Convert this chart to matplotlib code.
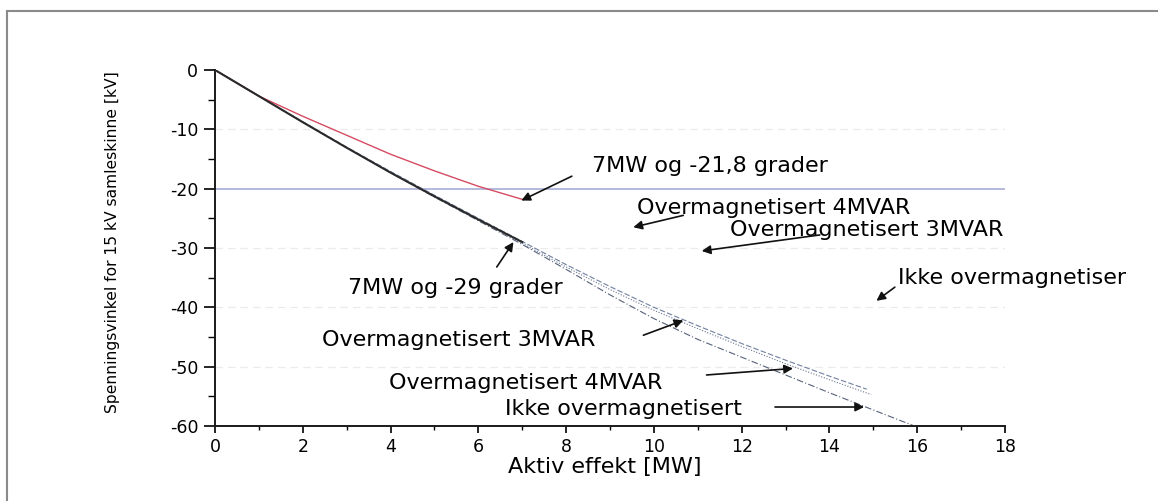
import matplotlib
matplotlib.use("Agg")
import matplotlib.pyplot as plt
from matplotlib.lines import Line2D
from matplotlib.ticker import MultipleLocator

plt.rcParams['font.family'] = ['DejaVu Sans']
plt.rcParams['axes.unicode_minus'] = False

# ---- data ----
x_red = [0, 1, 2, 3, 4, 5, 6, 7]
y_red = [0, -4.4, -7.8, -11.0, -14.2, -17.0, -19.6, -21.8]

x_black = [0, 1, 2, 3, 4, 5, 6, 7]
y_black = [0, -4.4, -8.8, -13.1, -17.3, -21.3, -25.2, -29.0]

x_ikke = [0, 1, 2, 3, 4, 5, 6, 7, 8, 9, 10, 11, 12, 13, 14, 15, 15.9]
y_ikke = [0, -4.4, -8.8, -13.1, -17.3, -21.4, -25.4, -29.4, -33.6, -37.9,
          -41.9, -45.4, -48.4, -51.4, -54.4, -57.3, -59.9]

x_3mvar = [0, 1, 2, 3, 4, 5, 6, 7, 8, 9, 10, 11, 12, 13, 14, 14.95]
y_3mvar = [0, -4.4, -8.8, -13.1, -17.2, -21.2, -25.2, -29.2, -33.2, -37.0,
           -40.5, -43.6, -46.6, -49.5, -52.2, -54.7]

x_4mvar = [0, 1, 2, 3, 4, 5, 6, 7, 8, 9, 10, 11, 12, 13, 14, 14.85]
y_4mvar = [0, -4.4, -8.7, -13.0, -17.1, -21.1, -25.0, -28.9, -32.8, -36.5,
           -40.0, -43.1, -46.1, -48.9, -51.6, -53.8]

limit_value = -20
faint_grid = [-10, -30, -40, -50]

x_ticks = [0, 2, 4, 6, 8, 10, 12, 14, 16, 18]
y_ticks = [0, -10, -20, -30, -40, -50, -60]

# annotations: (text, text_xy, arrow_tail, arrow_head)
annotations = [
    ("7MW og -21,8 grader", (8.58, -16.2), (8.13, -17.9), (6.98, -22.0)),
    ("Overmagnetisert 4MVAR", (9.61, -23.3), (10.67, -24.5), (9.53, -26.5)),
    ("Overmagnetisert 3MVAR", (11.73, -27.0), (13.78, -27.8), (11.09, -30.5)),
    ("Ikke overmagnetiser", (15.56, -35.1), (15.49, -36.6), (15.07, -38.9)),
    ("7MW og -29 grader", (3.03, -36.8), (6.42, -33.2), (6.80, -29.0)),
    ("Overmagnetisert 3MVAR", (2.44, -45.5), (9.76, -44.7), (10.67, -42.2)),
    ("Overmagnetisert 4MVAR", (3.96, -52.8), (11.2, -51.4), (13.17, -50.3)),
    ("Ikke overmagnetisert", (6.61, -57.1), (12.76, -56.8), (14.79, -56.8)),
]

# ---- figure ----
W, H = 1158, 501
fig = plt.figure(figsize=(W / 100, H / 100), dpi=100)
fig.patch.set_facecolor('white')

ax_left, ax_right, ax_top, ax_bot = 215, 1005, 70, 426
ax = fig.add_axes([ax_left / W, 1 - ax_bot / H, (ax_right - ax_left) / W, (ax_bot - ax_top) / H])

for gy in faint_grid:
    ax.axhline(gy, color='#ebebeb', lw=0.9, ls=(0, (6, 4)), zorder=0)
ax.axhline(limit_value, color='#a0a6d2', lw=1.1, zorder=1)

ax.plot(x_ikke, y_ikke, color='#56627a', lw=0.8, ls=(0, (6, 2, 1, 2)), zorder=2)
ax.plot(x_3mvar, y_3mvar, color='#6a7590', lw=0.8, ls=(0, (1, 1.5)), zorder=2)
ax.plot(x_4mvar, y_4mvar, color='#7080a0', lw=0.8, ls=(0, (5, 2)), zorder=2)
ax.plot(x_red, y_red, color='#d64a62', lw=1.0, zorder=3)
ax.plot(x_black, y_black, color='#2a2a2a', lw=1.5, zorder=4)

ax.set_xlim(0, 18)
ax.set_ylim(-60, 0)
ax.set_xticks(x_ticks)
ax.set_yticks(y_ticks)
ax.xaxis.set_minor_locator(MultipleLocator(1))
ax.yaxis.set_minor_locator(MultipleLocator(5))

for s in ['top', 'right']:
    ax.spines[s].set_visible(False)
for s in ['left', 'bottom']:
    ax.spines[s].set_linewidth(1.4)
    ax.spines[s].set_color('#1a1a1a')

ax.tick_params(axis='y', which='major', length=8, width=1.2, direction='out', pad=4, labelsize=12.5)
ax.tick_params(axis='y', which='minor', length=5, width=1.0, direction='out')
ax.tick_params(axis='x', which='major', length=5, width=1.2, direction='out', pad=4, labelsize=12.5)
ax.tick_params(axis='x', which='minor', length=3, width=1.0, direction='out')

ax.set_xlabel("Aktiv effekt [MW]", fontsize=16, va='center')
ax.xaxis.set_label_coords((605 - ax_left) / (ax_right - ax_left), (ax_bot - 467) / (ax_bot - ax_top))
ax.set_ylabel("Spenningsvinkel for 15 kV samleskinne [kV]", fontsize=11.2, va='center')
ax.yaxis.set_label_coords((113 - ax_left) / (ax_right - ax_left), (ax_bot - 242) / (ax_bot - ax_top))

for txt, txy, tail, head in annotations:
    ax.text(txy[0], txy[1], txt, fontsize=16, ha='left', va='center', zorder=5, clip_on=False)
    ax.annotate("", xy=head, xytext=tail,
                arrowprops=dict(arrowstyle='-|>', color='#111111', lw=1.2,
                                mutation_scale=13, shrinkA=0, shrinkB=0),
                zorder=5, annotation_clip=False)

# outer frame (left and top edges visible)
fig.add_artist(Line2D([7.5 / W, 7.5 / W], [0, 1 - 10.5 / H], transform=fig.transFigure,
                      color='#8a8a8a', lw=1.5))
fig.add_artist(Line2D([7.5 / W, 1], [1 - 10.5 / H, 1 - 10.5 / H], transform=fig.transFigure,
                      color='#8a8a8a', lw=1.5))

fig.savefig("out.png", dpi=100)
